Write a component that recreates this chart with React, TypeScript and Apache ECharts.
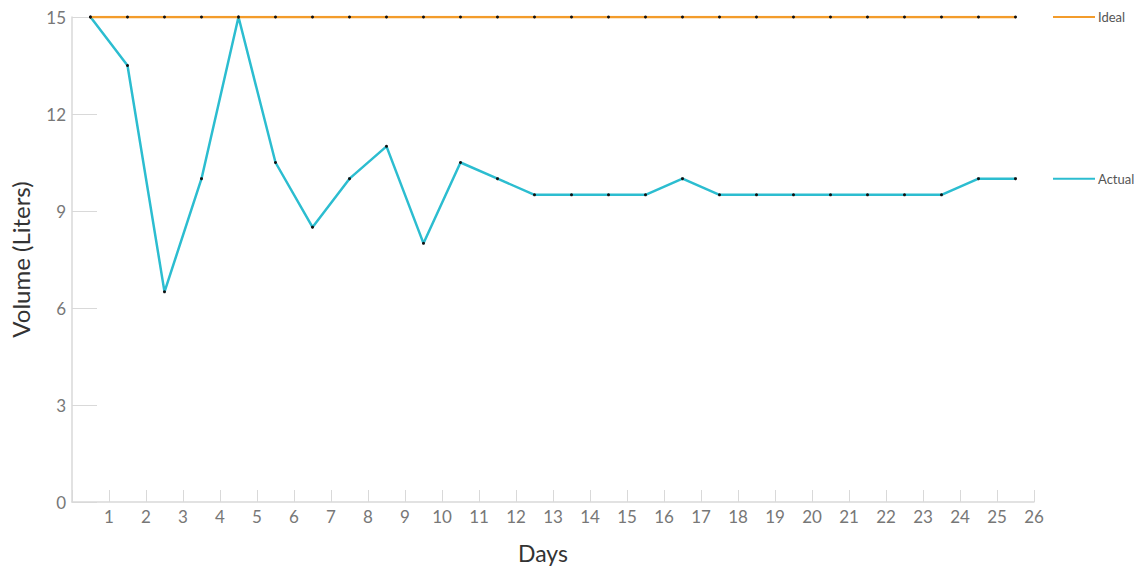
import React, { useEffect, useRef } from "react";
import * as echarts from "echarts";

const days = Array.from({ length: 26 }, (_, i) => i + 1);
const pointPositions = [0.5, 1.5, 2.5, 3.5, 4.5, 5.5, 6.5, 7.5, 8.5, 9.5, 10.5, 11.5, 12.5, 13.5, 14.5, 15.5, 16.5, 17.5, 18.5, 19.5, 20.5, 21.5, 22.5, 23.5, 24.5, 25.5];
const idealValues = [15, 15, 15, 15, 15, 15, 15, 15, 15, 15, 15, 15, 15, 15, 15, 15, 15, 15, 15, 15, 15, 15, 15, 15, 15, 15];
const actualValues = [15, 13.5, 6.5, 10, 15, 10.5, 8.5, 10, 11, 8, 10.5, 10, 9.5, 9.5, 9.5, 9.5, 10, 9.5, 9.5, 9.5, 9.5, 9.5, 9.5, 9.5, 10, 10];
const yTicks = [0, 3, 6, 9, 12, 15];

const IDEAL_COLOR = "#f39c2b";
const ACTUAL_COLOR = "#2cbdd0";
const FONT = "Lato, 'Open Sans', sans-serif";

export default function App() {
  const ref = useRef<HTMLDivElement>(null);
  useEffect(() => {
    if (!ref.current) return;
    const chart = echarts.init(ref.current, null, { renderer: "svg" });
    const series = [
      { name: "Ideal", values: idealValues, color: IDEAL_COLOR },
      { name: "Actual", values: actualValues, color: ACTUAL_COLOR },
    ];
    chart.setOption({
      animation: false,
      grid: { left: 72, right: 108, top: 17, bottom: 65, containLabel: false, outerBoundsMode: "none" },
      xAxis: {
        type: "value",
        min: 0,
        max: days.length,
        interval: 1,
        name: "Days",
        nameLocation: "middle",
        nameGap: 39,
        nameTextStyle: { fontSize: 23, color: "#333", fontFamily: FONT, padding: [0, 20, 0, 0] },
        axisLine: { show: true, lineStyle: { color: "#d9d9d9", width: 1.5 } },
        axisTick: { show: true, inside: true, length: 12, lineStyle: { color: "#d9d9d9" } },
        splitLine: { show: false },
        axisLabel: {
          fontSize: 17,
          color: "#777",
          fontFamily: FONT,
          margin: 6,
          formatter: (v: number) => (days.includes(v) ? String(v) : ""),
        },
      },
      yAxis: {
        type: "value",
        min: yTicks[0],
        max: yTicks[yTicks.length - 1],
        interval: 3,
        name: "Volume (Liters)",
        nameLocation: "middle",
        nameGap: 40,
        nameTextStyle: { fontSize: 24, color: "#333", fontFamily: FONT },
        axisLine: { show: true, lineStyle: { color: "#d9d9d9", width: 1.5 } },
        axisTick: { show: true, inside: true, length: 25, lineStyle: { color: "#d9d9d9" } },
        splitLine: { show: false },
        axisLabel: { fontSize: 17, color: "#777", fontFamily: FONT, margin: 6 },
      },
      series: series.map((s) => ({
        name: s.name,
        type: "line",
        data: s.values.map((v, i) => [pointPositions[i], v]),
        symbol: "circle",
        symbolSize: 3,
        itemStyle: { color: "#111" },
        lineStyle: { color: s.color, width: 2.5 },
        z: s.name === "Ideal" ? 3 : 2,
      })),
    });
    const lastX = days.length;
    const graphics: any[] = [];
    series.forEach((s) => {
      const p = chart.convertToPixel({ gridIndex: 0 }, [lastX, s.values[s.values.length - 1]]) as number[];
      graphics.push({
        type: "line",
        shape: { x1: 1053, y1: p[1], x2: 1095, y2: p[1] },
        style: { stroke: s.color, lineWidth: 2 },
      });
      graphics.push({
        type: "text",
        x: 1098,
        y: p[1],
        style: { text: s.name, fill: "#555", fontSize: 13, fontFamily: FONT, verticalAlign: "middle", align: "left" },
      });
    });
    chart.setOption({ graphic: graphics });
    return () => chart.dispose();
  }, []);
  return <div ref={ref} style={{ width: 1142, height: 567, position: "absolute", left: 0, top: 0 }} />;
}
